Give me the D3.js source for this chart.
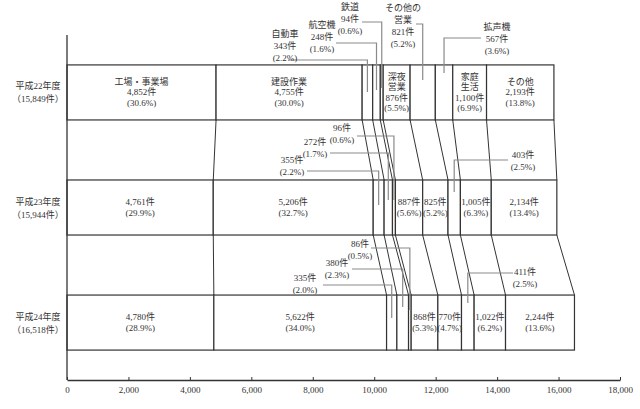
<!DOCTYPE html>
<html><head><meta charset="utf-8">
<script src="https://cdn.jsdelivr.net/npm/d3@7/dist/d3.min.js"></script>
<style>body{margin:0;background:#fff}text{font-family:"Liberation Serif","DejaVu Serif","Noto Sans CJK JP",serif;fill:#333}</style>
</head><body>
<svg id="c" width="640" height="409"></svg>
<script>
// ---- data ----
const years = ["平成22年度", "平成23年度", "平成24年度"];
const categories = ["工場・事業場", "建設作業", "自動車", "航空機", "鉄道", "深夜営業", "その他の営業", "拡声機", "家庭生活", "その他"];
const categoryLines = [["工場・事業場"], ["建設作業"], ["自動車"], ["航空機"], ["鉄道"], ["深夜", "営業"], ["その他の", "営業"], ["拡声機"], ["家庭", "生活"], ["その他"]];
const valuesH22 = [4852, 4755, 343, 248, 94, 876, 821, 567, 1100, 2193];
const valuesH23 = [4761, 5206, 355, 272, 96, 887, 825, 403, 1005, 2134];
const valuesH24 = [4780, 5622, 335, 380, 86, 868, 770, 411, 1022, 2244];
const pctH22 = [30.6, 30.0, 2.2, 1.6, 0.6, 5.5, 5.2, 3.6, 6.9, 13.8];
const pctH23 = [29.9, 32.7, 2.2, 1.7, 0.6, 5.6, 5.2, 2.5, 6.3, 13.4];
const pctH24 = [28.9, 34.0, 2.0, 2.3, 0.5, 5.3, 4.7, 2.5, 6.2, 13.6];
const xTicks = [0, 2000, 4000, 6000, 8000, 10000, 12000, 14000, 16000, 18000];

// which segments carry their label inside the bar
const insideH22 = [0, 1, 5, 8, 9];
const insideH23 = [0, 1, 5, 6, 8, 9];
const insideH24 = [0, 1, 5, 6, 8, 9];

// callout layout (label centre, first line y, leader y, leader start x, leader end y)
const callouts = [
  {row: 0, idx: 2, cx: 285, y0: 34, ly: 60, lx: 288, ey: 92},
  {row: 0, idx: 3, cx: 322, y0: 25, ly: 43, lx: 336, ey: 90},
  {row: 0, idx: 4, cx: 350, y0: 7,  ly: 22, lx: 362, ey: 88},
  {row: 0, idx: 6, cx: 403, y0: 8,  ly: 24, lx: 416, ey: 80},
  {row: 0, idx: 7, cx: 497, y0: 27, ly: 38, lx: 481, ey: 73},
  {row: 1, idx: 4, cx: 342, y0: 128, ly: 136, lx: 357, ey: 200},
  {row: 1, idx: 3, cx: 315, y0: 142, ly: 153, lx: 330, ey: 200},
  {row: 1, idx: 2, cx: 292, y0: 160, ly: 171, lx: 307, ey: 205},
  {row: 1, idx: 7, cx: 523, y0: 155, ly: 160, lx: 508, ey: 192},
  {row: 2, idx: 4, cx: 360, y0: 244, ly: 248, lx: 371, ey: 310},
  {row: 2, idx: 3, cx: 337, y0: 263, ly: 269, lx: 352, ey: 307},
  {row: 2, idx: 2, cx: 305, y0: 278, ly: 285, lx: 323, ey: 318},
  {row: 2, idx: 7, cx: 525, y0: 272, ly: 273, lx: 513, ey: 303}
];

// ---- build ----
const rows = [valuesH22, valuesH23, valuesH24].map((vals, r) => {
  let acc = 0;
  const segs = vals.map((v, i) => { const s = {i, v, pct: [pctH22, pctH23, pctH24][r][i], x0: acc, x1: acc + v}; acc += v; return s; });
  return {year: years[r], total: acc, segs, inside: [insideH22, insideH23, insideH24][r]};
});

const svg = d3.select("#c");
const x = d3.scaleLinear().domain([0, 18000]).range([67, 620]);
const y = d3.scaleBand().domain(years).range([35, 380]).paddingInner(60 / 115).paddingOuter(0.26);
const fmt = d3.format(",");
const fs = 9;

// connectors between consecutive bars
for (let r = 0; r < rows.length - 1; r++) {
  const a = rows[r], b = rows[r + 1];
  a.segs.forEach((s, i) => {
    svg.append("line")
      .attr("x1", x(s.x1)).attr("y1", y(a.year) + y.bandwidth())
      .attr("x2", x(b.segs[i].x1)).attr("y2", y(b.year))
      .attr("stroke", "#333").attr("stroke-width", 1);
  });
}

// bars
rows.forEach(row => {
  const g = svg.append("g");
  g.selectAll("rect").data(row.segs).join("rect")
    .attr("x", d => x(d.x0)).attr("y", y(row.year))
    .attr("width", d => x(d.x1) - x(d.x0)).attr("height", y.bandwidth())
    .attr("fill", "#fff").attr("stroke", "#333").attr("stroke-width", 1.2);
});

// inside labels
rows.forEach((row, r) => {
  const cy = y(row.year) + y.bandwidth() / 2;
  row.inside.forEach(i => {
    const s = row.segs[i];
    const lines = (r === 0 ? categoryLines[i] : []).concat([fmt(s.v) + "件", "(" + s.pct.toFixed(1) + "%)"]);
    const lh = lines.length > 2 ? 10.5 : 11;
    const start = cy - (lines.length - 1) * lh / 2;
    lines.forEach((t, k) => {
      svg.append("text").attr("x", (x(s.x0) + x(s.x1)) / 2).attr("y", start + k * lh)
        .attr("text-anchor", "middle").attr("dominant-baseline", "central")
        .attr("font-size", fs).text(t);
    });
  });
});

// callouts
callouts.forEach(c => {
  const row = rows[c.row], s = row.segs[c.idx];
  const mx = (x(s.x0) + x(s.x1)) / 2;
  svg.append("path")
    .attr("d", `M${c.lx},${c.ly}H${mx}V${c.ey}`)
    .attr("fill", "none").attr("stroke", "#8a8a8a").attr("stroke-width", 1.2);
  const lines = (c.row === 0 ? categoryLines[c.idx] : []).concat([fmt(s.v) + "件", "(" + s.pct.toFixed(1) + "%)"]);
  lines.forEach((t, k) => {
    svg.append("text").attr("x", c.cx).attr("y", c.y0 + k * 12)
      .attr("text-anchor", "middle").attr("dominant-baseline", "central")
      .attr("font-size", fs).text(t);
  });
});

// y category labels
rows.forEach(row => {
  const cy = y(row.year) + y.bandwidth() / 2;
  svg.append("text").attr("x", 38).attr("y", cy - 6).attr("text-anchor", "middle")
    .attr("dominant-baseline", "central").attr("font-size", fs).text(row.year);
  svg.append("text").attr("x", 38).attr("y", cy + 7).attr("text-anchor", "middle")
    .attr("dominant-baseline", "central").attr("font-size", fs).text("（" + fmt(row.total) + "件）");
});

// y axis line
svg.append("line").attr("x1", x(0)).attr("x2", x(0)).attr("y1", 35).attr("y2", 380)
  .attr("stroke", "#333").attr("stroke-width", 1.3);

// x axis
const ax = svg.append("g").attr("transform", "translate(0,380)")
  .call(d3.axisBottom(x).tickValues(xTicks).tickFormat(fmt).tickSizeInner(-3).tickSizeOuter(0).tickPadding(7));
ax.select(".domain").attr("stroke", "#333").attr("stroke-width", 1.3);
ax.selectAll(".tick line").attr("stroke", "#333");
ax.selectAll(".tick text").attr("font-size", fs).attr("fill", "#333")
  .style("font-family", '"Liberation Serif","DejaVu Serif",serif');
</script>
</body></html>
